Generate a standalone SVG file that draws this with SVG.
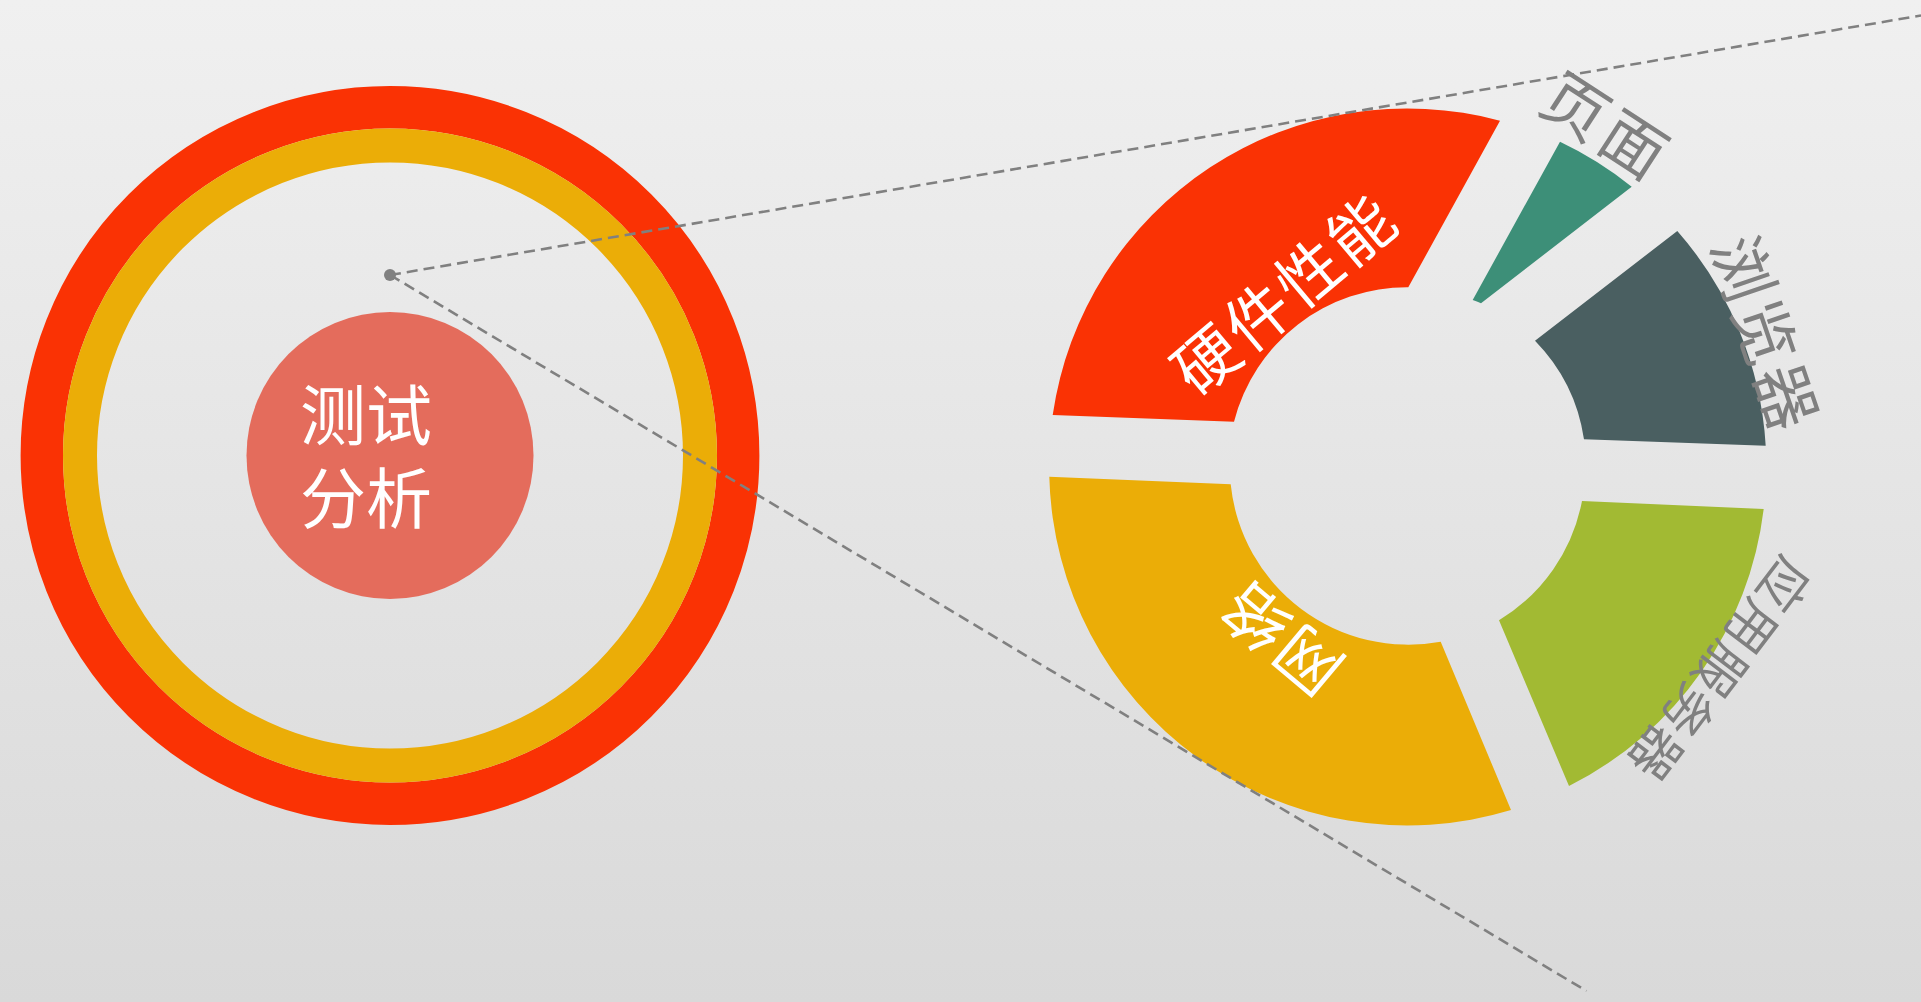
<svg xmlns="http://www.w3.org/2000/svg" width="1921" height="1002" viewBox="0 0 1921 1002">
  <defs>
    <linearGradient id="bg" x1="0" y1="0" x2="0" y2="1">
      <stop offset="0" stop-color="#f0f0f0"/>
      <stop offset="1" stop-color="#d9d9d9"/>
    </linearGradient>
    <style>
      .lbl { font-family: "Noto Sans CJK SC", "Noto Sans", sans-serif; text-anchor: middle; dominant-baseline: central; }
      .in { fill: #ffffff; font-size: 64px; }
      .out { fill: #808080; font-size: 64px; }
      .conn { fill: none; stroke: #808080; stroke-width: 2.6; stroke-dasharray: 11 6; }
    </style>
  </defs>
  <rect x="0" y="0" width="1921" height="1002" fill="url(#bg)"/>

  <g id="zoom-source">
    <circle cx="390" cy="455.5" r="348.2" fill="none" stroke="#fa3204" stroke-width="42.4"/>
    <circle cx="390" cy="455.5" r="310" fill="none" stroke="#ebad07" stroke-width="34"/>
  </g>

  <g id="node-center">
    <circle cx="390" cy="455.5" r="143.5" fill="#e46c5c"/>
    <text class="lbl" style="text-anchor:start;font-size:66px;fill:#fff"><tspan x="300" y="411">测试</tspan><tspan x="300" y="494">分析</tspan></text>
  </g>

  <g id="node-hardware">
    <path d="M1052.7,415 A358,358 0 0 1 1500,120.7 L1408.3,287.3 A178.5,178.5 0 0 0 1234,421.7 Z" fill="#fa3204"/>
    <text class="lbl in" transform="translate(1280.8,291.7) rotate(-40)" x="-101 -33.7 33.7 101" y="0">硬件性能</text>
  </g>

  <g id="node-page">
    <path d="M1560,141.7 A358,358 0 0 1 1631.7,186.7 L1481,303.3 A178.5,178.5 0 0 0 1472.7,300 Z" fill="#3d8f78"/>
    <text class="lbl out" transform="translate(1607.2,122) rotate(33)" x="-34.4 34.4" y="0">页面</text>
  </g>

  <g id="node-browser">
    <path d="M1677.3,231 A358,358 0 0 1 1765.7,445.7 L1584,439.3 A178.5,178.5 0 0 0 1535,340.7 Z" fill="#4a5f61"/>
    <text class="lbl out" transform="translate(1768.5,331) rotate(71.1)" x="-67.8 0 67.8" y="0">浏览器</text>
  </g>

  <g id="node-appserver">
    <path d="M1763.7,509 A358,358 0 0 1 1569,786 L1499,620.3 A178.5,178.5 0 0 0 1582,501 Z" fill="#a2ba33"/>
    <text class="lbl out" transform="translate(1722.8,670.8) rotate(127.2)" x="-105.6 -52.8 0 52.8 105.6" y="0" style="font-size:51px">应用服务器</text>
  </g>

  <g id="node-network">
    <path d="M1511,810 A358,358 0 0 1 1049.3,476.7 L1230.7,484.3 A178.5,178.5 0 0 0 1440.7,641.7 Z" fill="#ebad07"/>
    <text class="lbl in" transform="translate(1279.5,642.5) rotate(-140)" x="-34 34" y="0">网络</text>
  </g>

  <g id="connectors">
    <line class="conn" x1="390" y1="275" x2="1921" y2="15.5"/>
    <line class="conn" x1="390" y1="275" x2="1586.5" y2="991"/>
    <circle cx="390" cy="275" r="6" fill="#808080"/>
  </g>
</svg>
